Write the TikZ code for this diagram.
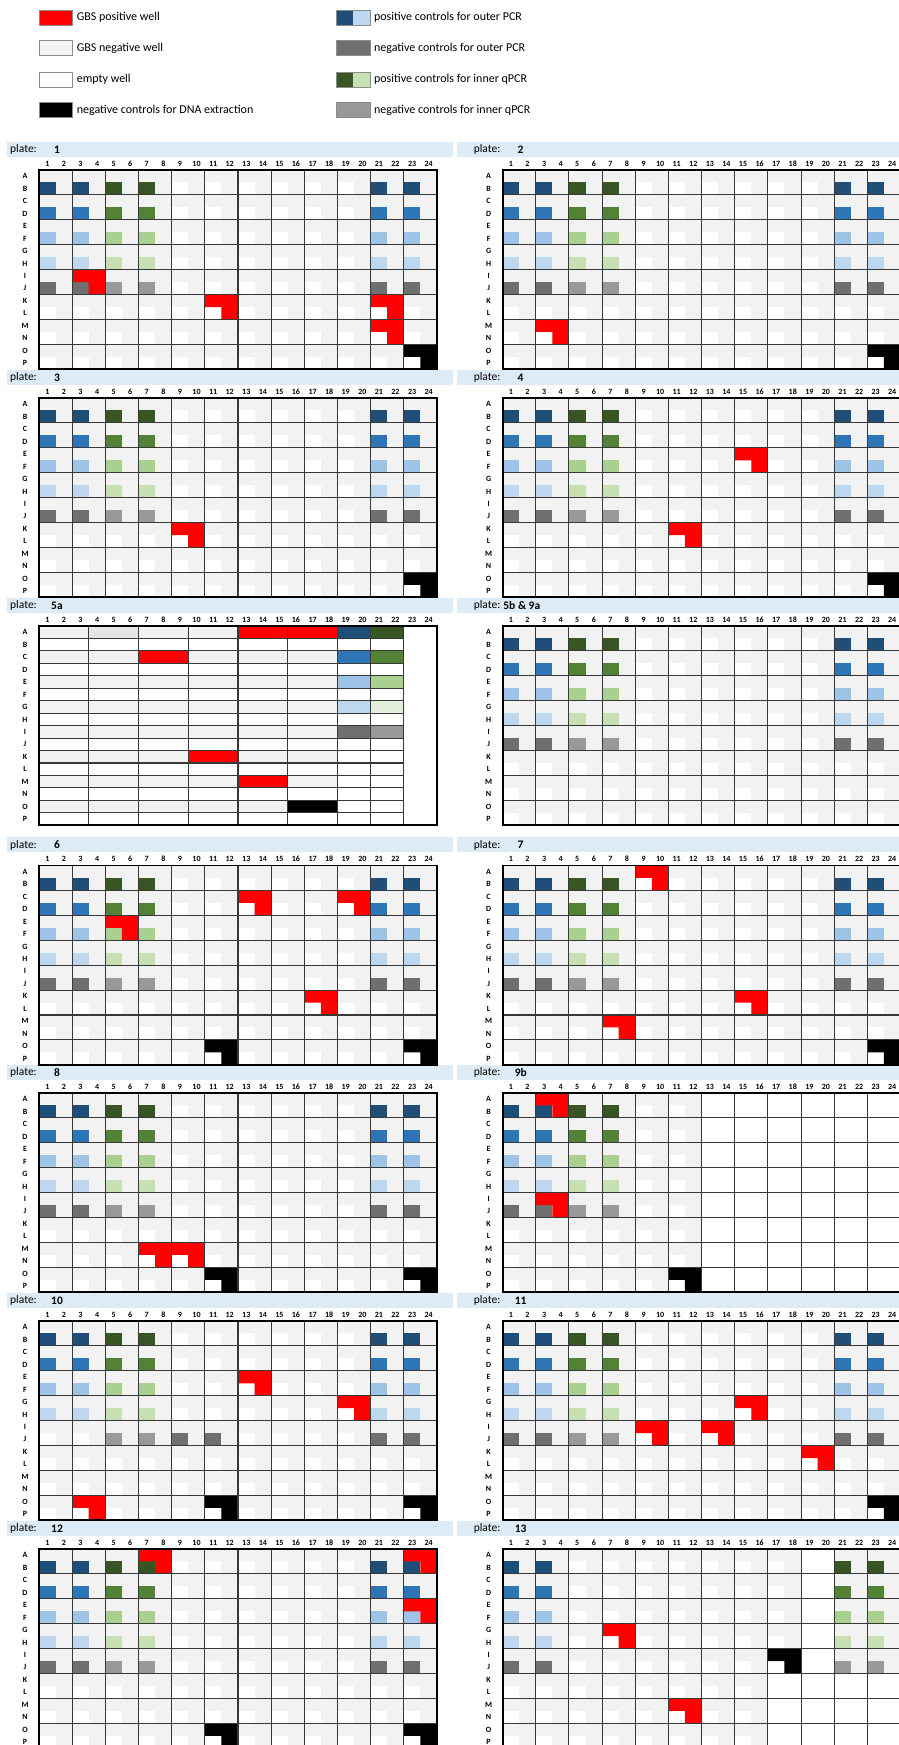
\documentclass[tikz,border=0pt]{standalone}
\usepackage{fontspec}
\setmainfont{Carlito}
\usetikzlibrary{positioning}
\definecolor{gbsred}{HTML}{FF0000}
\definecolor{wellgray}{HTML}{F2F2F2}
\definecolor{darkwell}{HTML}{E6E6E6}
\definecolor{platebar}{HTML}{DDEBF7}
\definecolor{outerone}{HTML}{1F4E79}
\definecolor{outertwo}{HTML}{2E75B6}
\definecolor{outerthree}{HTML}{9DC3E6}
\definecolor{outerfour}{HTML}{BDD7EE}
\definecolor{outerneg}{HTML}{6F6F6F}
\definecolor{innerone}{HTML}{375623}
\definecolor{innertwo}{HTML}{548235}
\definecolor{innerthree}{HTML}{A9D08E}
\definecolor{innerfour}{HTML}{C6E0B4}
\definecolor{innerfive}{HTML}{E2EFDA}
\definecolor{innerneg}{HTML}{999999}
\newcommand{\wellw}{16.58}
\newcommand{\wellh}{12.456}
\tikzset{
    swatch/.style={
        draw=black!45,
        line width=0.8pt,
        minimum width=33.4pt,
        minimum height=15pt,
        inner sep=0pt
    },
    key text/.style={
        font=\fontsize{12}{14}\selectfont,
        inner sep=0pt
    },
    plate tag/.style={
        font=\fontsize{11.5}{13}\selectfont,
        inner sep=0pt
    },
    plate no/.style={
        font=\fontsize{11.5}{13}\selectfont\bfseries,
        inner sep=0pt
    },
    axis label/.style={
        font=\fontsize{8}{9}\selectfont\bfseries,
        inner sep=0pt
    },
    block line/.style={
        draw=black!78,
        line width=1.1pt
    },
    plate border/.style={
        draw=black,
        line width=1.8pt
    }
}
% one well: column, row (A=1), colour
\newcommand{\well}[3]{%
    \fill[#3] ({(#1-1)*\wellw},{(#2-1)*\wellh}) rectangle ++(\wellw,\wellh);
}
% a run of wells in one row: first column, last column, row, colour
\newcommand{\strip}[4]{%
    \fill[#4] ({(#1-1)*\wellw},{(#3-1)*\wellh}) rectangle ({#2*\wellw},{#3*\wellh});
}
% pooled area: 2x2 blocks, grey with the lower left well left white
\newcommand{\pooled}[4]{%
    \fill[wellgray] ({(#1-1)*\wellw},{(#3-1)*\wellh}) rectangle ({#2*\wellw},{#4*\wellh});
    \foreach \c in {#1,...,#2} {
        \foreach \r in {#3,...,#4} {
            \ifodd\c\relax\ifodd\r\relax\else\well{\c}{\r}{white}\fi\fi
        }
    }
}
% L of three wells in the block whose top left well is (column,row)
\newcommand{\hit}[3]{%
    \fill[#3] ({(#1-1)*\wellw},{(#2-1)*\wellh})
        -- ++({2*\wellw},0) -- ++(0,{2*\wellh}) -- ++({-\wellw},0)
        -- ++(0,{-\wellh}) -- ++({-\wellw},0) -- cycle;
}
\newcommand{\outerpos}[1]{%
    \well{#1}{2}{outerone}\well{#1}{4}{outertwo}%
    \well{#1}{6}{outerthree}\well{#1}{8}{outerfour}%
}
\newcommand{\innerpos}[1]{%
    \well{#1}{2}{innerone}\well{#1}{4}{innertwo}%
    \well{#1}{6}{innerthree}\well{#1}{8}{innerfour}%
}
\newcommand{\outerset}[1]{\outerpos{#1}\well{#1}{10}{outerneg}}
\newcommand{\innerset}[1]{\innerpos{#1}\well{#1}{10}{innerneg}}
\newcommand{\stdset}{%
    \outerset{1}\outerset{3}\innerset{5}\innerset{7}\outerset{21}\outerset{23}%
}
\newcommand{\blocklines}{%
    \foreach \c in {2,4,...,22}
        \draw[block line] ({\c*\wellw},0) -- ({\c*\wellw},{16*\wellh});
    \foreach \r in {2,4,...,14}
        \draw[block line] (0,{\r*\wellh}) -- ({24*\wellw},{\r*\wellh});
    \draw[plate border] (0,0) rectangle ({24*\wellw},{16*\wellh});
}
% plate title, column numbers and row letters
\newcommand{\platelabels}[3][]{%
    \node[plate tag, anchor=west] (#2-tag) at (-29,-20.5) {plate:};
    \node[plate no, #1] (#2-no) at (18,-20.5) {#3};
    \foreach \c in {1,...,24}
        \node[axis label] (#2-c\c) at ({(\c-0.5)*\wellw},-6.5) {\c};
    \foreach \r [count=\i] in {A,...,P}
        \node[axis label] (#2-r\r) at (-14,{(\i-0.5)*\wellh}) {\r};
}

\begin{document}
\begin{tikzpicture}[x=1pt, y=-1pt]
    \useasboundingbox (0,0) rectangle (899,1745);

    % -------------------------------------------------------------------------
    % Legend.
    % -------------------------------------------------------------------------
    \node[swatch, fill=gbsred] (key-pos) at (56,17.5) {};
    \node[key text, right=3.5pt of key-pos] (key-pos-text) {GBS positive well};
    \node[swatch, fill=wellgray] (key-neg) at (56,48) {};
    \node[key text, right=3.5pt of key-neg] (key-neg-text) {GBS negative well};
    \node[swatch, fill=white] (key-empty) at (56,79.5) {};
    \node[key text, right=3.5pt of key-empty] (key-empty-text) {empty well};
    \node[swatch, fill=black] (key-dna) at (56,110) {};
    \node[key text, right=3.5pt of key-dna] (key-dna-text)
        {negative controls for DNA extraction};

    \node[swatch, fill=outerfour, path picture={
        \fill[outerone] (path picture bounding box.south west)
            rectangle (path picture bounding box.north);}]
        (key-outer) at (353.3,17.5) {};
    \node[key text, right=3.5pt of key-outer] (key-outer-text)
        {positive controls for outer PCR};
    \node[swatch, fill=outerneg] (key-outerneg) at (353.3,48) {};
    \node[key text, right=3.5pt of key-outerneg] (key-outerneg-text)
        {negative controls for outer PCR};
    \node[swatch, fill=innerfour, path picture={
        \fill[innerone] (path picture bounding box.south west)
            rectangle (path picture bounding box.north);}]
        (key-inner) at (353.3,79.5) {};
    \node[key text, right=3.5pt of key-inner] (key-inner-text)
        {positive controls for inner qPCR};
    \node[swatch, fill=innerneg] (key-innerneg) at (353.3,110) {};
    \node[key text, right=3.5pt of key-innerneg] (key-innerneg-text)
        {negative controls for inner qPCR};

    % Title bars.
    \foreach \y in {142,370,598,837,1065,1293,1521} {
        \fill[platebar] (7,\y) rectangle (453,\y+15);
        \fill[platebar] (457,\y) rectangle (899,\y+15);
    }

    % -------------------------------------------------------------------------
    % Plates 1 to 4.
    % -------------------------------------------------------------------------
    \begin{scope}[shift={(39,170)}]
        \pooled{1}{24}{1}{16}
        \stdset
        \hit{3}{9}{gbsred}\hit{11}{11}{gbsred}\hit{21}{11}{gbsred}\hit{21}{13}{gbsred}
        \hit{23}{15}{black}
        \blocklines
        \platelabels{p1}{1}
    \end{scope}

    \begin{scope}[shift={(502.6,170)}]
        \pooled{1}{24}{1}{16}
        \stdset
        \hit{3}{13}{gbsred}
        \hit{23}{15}{black}
        \blocklines
        \platelabels{p2}{2}
    \end{scope}

    \begin{scope}[shift={(39,398)}]
        \pooled{1}{24}{1}{16}
        \stdset
        \hit{9}{11}{gbsred}
        \hit{23}{15}{black}
        \blocklines
        \platelabels{p3}{3}
    \end{scope}

    \begin{scope}[shift={(502.6,398)}]
        \pooled{1}{24}{1}{16}
        \stdset
        \hit{15}{5}{gbsred}\hit{11}{11}{gbsred}
        \hit{23}{15}{black}
        \blocklines
        \platelabels{p4}{4}
    \end{scope}

    % -------------------------------------------------------------------------
    % Plate 5a has its own layout, 5b & 9a the usual one.
    % -------------------------------------------------------------------------
    \begin{scope}[shift={(39,626)}]
        \foreach \r in {1,3,...,15}
            \strip{1}{18}{\r}{wellgray};
        \strip{4}{6}{1}{darkwell}
        \strip{13}{15}{1}{gbsred}\strip{16}{18}{1}{gbsred}
        \strip{7}{9}{3}{gbsred}
        \strip{10}{12}{11}{gbsred}
        \strip{13}{15}{13}{gbsred}
        \strip{16}{18}{15}{black}
        \strip{19}{20}{1}{outerone}\strip{21}{22}{1}{innerone}
        \strip{19}{20}{3}{outertwo}\strip{21}{22}{3}{innertwo}
        \strip{19}{20}{5}{outerthree}\strip{21}{22}{5}{innerthree}
        \strip{19}{20}{7}{outerfour}\strip{21}{22}{7}{innerfive}
        \strip{19}{20}{9}{outerneg}\strip{21}{22}{9}{innerneg}
        \foreach \r in {1,...,15}
            \draw[block line] (0,{\r*\wellh}) -- ({22*\wellw},{\r*\wellh});
        \foreach \c in {3,6,9,12,15,18,20,22}
            \draw[block line] ({\c*\wellw},0) -- ({\c*\wellw},{16*\wellh});
        \draw[plate border] (0,0) rectangle ({24*\wellw},{16*\wellh});
        \platelabels[anchor=west, xshift=-6pt]{p5a}{5a}
    \end{scope}

    \begin{scope}[shift={(502.6,626)}]
        \pooled{1}{24}{1}{16}
        \stdset
        \blocklines
        \platelabels[anchor=west, xshift=-17.4pt]{p5b}{5b \& 9a}
    \end{scope}

    % -------------------------------------------------------------------------
    % Plates 6 to 9b.
    % -------------------------------------------------------------------------
    \begin{scope}[shift={(39,865.5)}]
        \pooled{1}{24}{1}{16}
        \stdset
        \hit{13}{3}{gbsred}\hit{19}{3}{gbsred}\hit{5}{5}{gbsred}\hit{17}{11}{gbsred}
        \hit{11}{15}{black}\hit{23}{15}{black}
        \blocklines
        \platelabels{p6}{6}
    \end{scope}

    \begin{scope}[shift={(502.6,865.5)}]
        \pooled{1}{24}{1}{16}
        \stdset
        \hit{9}{1}{gbsred}\hit{15}{11}{gbsred}\hit{7}{13}{gbsred}
        \hit{23}{15}{black}
        \blocklines
        \platelabels{p7}{7}
    \end{scope}

    \begin{scope}[shift={(39,1093)}]
        \pooled{1}{24}{1}{16}
        \stdset
        \hit{7}{13}{gbsred}\hit{9}{13}{gbsred}
        \hit{11}{15}{black}\hit{23}{15}{black}
        \blocklines
        \platelabels{p8}{8}
    \end{scope}

    \begin{scope}[shift={(502.6,1093)}]
        \pooled{1}{12}{1}{16}
        \outerset{1}\outerset{3}\innerset{5}\innerset{7}
        \hit{3}{1}{gbsred}\hit{3}{9}{gbsred}
        \hit{11}{15}{black}
        \blocklines
        \platelabels[anchor=west, xshift=-6pt]{p9b}{9b}
    \end{scope}

    % -------------------------------------------------------------------------
    % Plates 10 to 13.
    % -------------------------------------------------------------------------
    \begin{scope}[shift={(39,1321)}]
        \pooled{1}{24}{1}{16}
        \outerpos{1}\outerpos{3}\innerset{5}\innerset{7}\outerset{21}\outerset{23}
        \well{9}{10}{outerneg}\well{11}{10}{outerneg}
        \hit{13}{5}{gbsred}\hit{19}{7}{gbsred}\hit{3}{15}{gbsred}
        \hit{11}{15}{black}\hit{23}{15}{black}
        \blocklines
        \platelabels{p10}{10}
    \end{scope}

    \begin{scope}[shift={(502.6,1321)}]
        \pooled{1}{24}{1}{16}
        \stdset
        \hit{15}{7}{gbsred}\hit{9}{9}{gbsred}\hit{13}{9}{gbsred}\hit{19}{11}{gbsred}
        \hit{23}{15}{black}
        \blocklines
        \platelabels{p11}{11}
    \end{scope}

    \begin{scope}[shift={(39,1549)}]
        \pooled{1}{24}{1}{16}
        \stdset
        \hit{7}{1}{gbsred}\hit{23}{1}{gbsred}\hit{23}{5}{gbsred}
        \hit{11}{15}{black}\hit{23}{15}{black}
        \blocklines
        \platelabels{p12}{12}
    \end{scope}

    \begin{scope}[shift={(502.6,1549)}]
        \pooled{1}{18}{1}{10}\pooled{21}{24}{1}{10}\pooled{1}{16}{11}{16}
        \outerset{1}\outerset{3}\innerset{21}\innerset{23}
        \hit{7}{7}{gbsred}\hit{11}{13}{gbsred}
        \hit{17}{9}{black}
        \blocklines
        \platelabels{p13}{13}
    \end{scope}

\end{tikzpicture}
\end{document}
